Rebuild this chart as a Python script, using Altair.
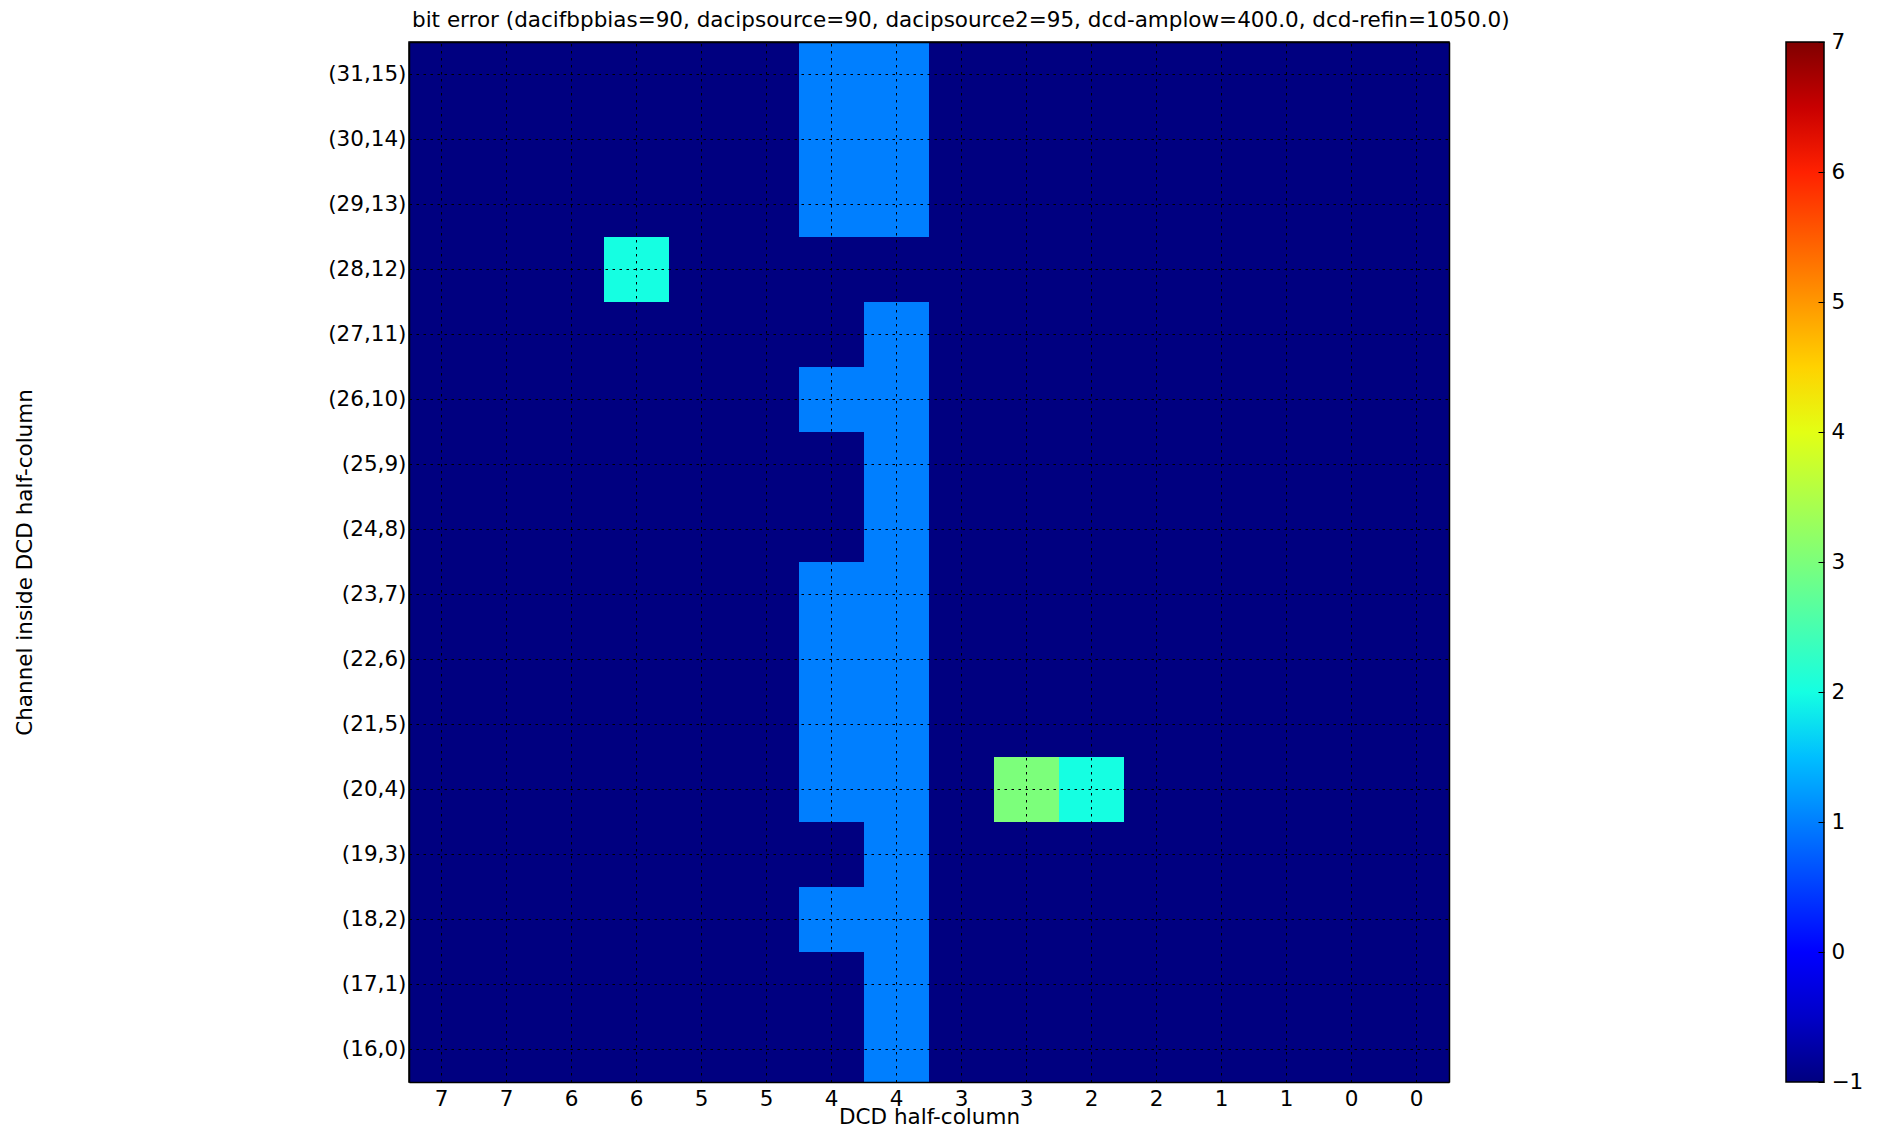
import altair as alt
import pandas as pd
import numpy as np

title_text = "bit error (dacifbpbias=90, dacipsource=90, dacipsource2=95, dcd-amplow=400.0, dcd-refin=1050.0)"
x_title = "DCD half-column"
y_title = "Channel inside DCD half-column"

col_labels = ["7", "7", "6", "6", "5", "5", "4", "4", "3", "3", "2", "2", "1", "1", "0", "0"]
row_labels = ["(31,15)", "(30,14)", "(29,13)", "(28,12)", "(27,11)", "(26,10)", "(25,9)", "(24,8)",
              "(23,7)", "(22,6)", "(21,5)", "(20,4)", "(19,3)", "(18,2)", "(17,1)", "(16,0)"]

# bit error per cell, rows top to bottom, columns left to right
values = [
    [-1, -1, -1, -1, -1, -1, 1, 1, -1, -1, -1, -1, -1, -1, -1, -1],
    [-1, -1, -1, -1, -1, -1, 1, 1, -1, -1, -1, -1, -1, -1, -1, -1],
    [-1, -1, -1, -1, -1, -1, 1, 1, -1, -1, -1, -1, -1, -1, -1, -1],
    [-1, -1, -1, 2, -1, -1, -1, -1, -1, -1, -1, -1, -1, -1, -1, -1],
    [-1, -1, -1, -1, -1, -1, -1, 1, -1, -1, -1, -1, -1, -1, -1, -1],
    [-1, -1, -1, -1, -1, -1, 1, 1, -1, -1, -1, -1, -1, -1, -1, -1],
    [-1, -1, -1, -1, -1, -1, -1, 1, -1, -1, -1, -1, -1, -1, -1, -1],
    [-1, -1, -1, -1, -1, -1, -1, 1, -1, -1, -1, -1, -1, -1, -1, -1],
    [-1, -1, -1, -1, -1, -1, 1, 1, -1, -1, -1, -1, -1, -1, -1, -1],
    [-1, -1, -1, -1, -1, -1, 1, 1, -1, -1, -1, -1, -1, -1, -1, -1],
    [-1, -1, -1, -1, -1, -1, 1, 1, -1, -1, -1, -1, -1, -1, -1, -1],
    [-1, -1, -1, -1, -1, -1, 1, 1, -1, 3, 2, -1, -1, -1, -1, -1],
    [-1, -1, -1, -1, -1, -1, -1, 1, -1, -1, -1, -1, -1, -1, -1, -1],
    [-1, -1, -1, -1, -1, -1, 1, 1, -1, -1, -1, -1, -1, -1, -1, -1],
    [-1, -1, -1, -1, -1, -1, -1, 1, -1, -1, -1, -1, -1, -1, -1, -1],
    [-1, -1, -1, -1, -1, -1, -1, 1, -1, -1, -1, -1, -1, -1, -1, -1],
]

colorbar_ticks = [-1, 0, 1, 2, 3, 4, 5, 6, 7]
vmin, vmax = -1, 7

# matplotlib "jet" colormap breakpoints (style, not data)
jet_t = [0.0, 0.11, 0.125, 0.34, 0.35, 0.375, 0.64, 0.65, 0.66, 0.89, 0.91, 1.0]


def jet_hex(t):
    r = np.interp(t, [0, 0.35, 0.66, 0.89, 1], [0, 0, 1, 1, 0.5])
    g = np.interp(t, [0, 0.125, 0.375, 0.64, 0.91, 1], [0, 0, 1, 1, 0, 0])
    b = np.interp(t, [0, 0.11, 0.34, 0.65, 1], [0.5, 1, 1, 0, 0])
    return "#%02x%02x%02x" % (int(round(r * 255)), int(round(g * 255)), int(round(b * 255)))


jet_domain = [vmin + (vmax - vmin) * t for t in jet_t]
jet_range = [jet_hex(t) for t in jet_t]

records = []
for ri, rl in enumerate(row_labels):
    for ci in range(len(col_labels)):
        records.append({"row": rl, "col": ci, "value": values[ri][ci]})
df = pd.DataFrame(records)
ticks_df = pd.DataFrame({"tick": colorbar_ticks})

FONT = "DejaVu Sans"
FS = 21.5

label_array = "[" + ",".join("'%s'" % c for c in col_labels) + "]"

W, H = 1040, 1040
CB_LEFT = 1377  # colorbar left edge relative to plot origin
CB_W = 38
TICK_LEN = 6

grid_style = dict(grid=True, gridColor="black", gridDash=[2.5, 4.5], gridWidth=1, gridOpacity=1)
frame_style = dict(domain=True, domainColor="black", domainWidth=1.5, zindex=1)

heat = alt.Chart(df).mark_rect().encode(
    x=alt.X(
        "col:O",
        scale=alt.Scale(paddingInner=0, paddingOuter=0),
        axis=alt.Axis(
            title=x_title,
            labelExpr=label_array + "[datum.value]",
            labelAngle=0,
            labelPadding=6,
            titleBaseline="alphabetic",
            titleY=41,
            titlePadding=0,
            ticks=False,
            bandPosition=0.5,
            **grid_style,
            **frame_style,
        ),
    ),
    y=alt.Y(
        "row:N",
        sort=row_labels,
        scale=alt.Scale(paddingInner=0, paddingOuter=0),
        axis=alt.Axis(
            title=y_title,
            labelPadding=3,
            titleAngle=270,
            titleBaseline="alphabetic",
            titleX=-378,
            titleY=H / 2,
            ticks=False,
            bandPosition=0.5,
            **grid_style,
            **frame_style,
        ),
    ),
    color=alt.Color(
        "value:Q",
        scale=alt.Scale(domain=jet_domain, range=jet_range, interpolate="rgb"),
        legend=alt.Legend(
            title=None,
            orient="none",
            direction="vertical",
            legendX=CB_LEFT,
            legendY=0,
            gradientLength=H,
            gradientThickness=CB_W,
            gradientStrokeColor="black",
            gradientStrokeWidth=1.5,
            values=colorbar_ticks,
            labelExpr="''",
            labelOpacity=0,
            padding=0,
        ),
    ),
)

colorbar_axis = alt.Chart(ticks_df).mark_point(opacity=0).encode(
    y=alt.Y(
        "tick:Q",
        scale=alt.Scale(domain=[vmin, vmax], nice=False, zero=False),
        axis=alt.Axis(
            orient="right",
            offset=CB_LEFT + CB_W - TICK_LEN - W,
            values=colorbar_ticks,
            format="d",
            labelExpr="datum.value < 0 ? '\u2212' + abs(datum.value) : datum.label",
            labelFont=FONT,
            labelFontSize=FS,
            labelColor="black",
            ticks=True,
            tickSize=TICK_LEN,
            tickColor="black",
            tickWidth=1,
            domain=False,
            grid=False,
            labelPadding=7,
            labelBaseline="middle",
            labelAlign="left",
            labelOverlap=False,
            labelFlush=False,
            title=None,
            zindex=1,
        ),
    ),
)

frame_axes = alt.Chart(ticks_df).mark_point(opacity=0).encode(
    x=alt.X(
        "tick:Q",
        scale=alt.Scale(domain=[vmin, vmax], nice=False, zero=False),
        axis=alt.Axis(orient="top", labels=False, ticks=False, grid=False, title=None, **frame_style),
    ),
    y=alt.Y(
        "tick:Q",
        scale=alt.Scale(domain=[vmin, vmax], nice=False, zero=False),
        axis=alt.Axis(orient="right", labels=False, ticks=False, grid=False, title=None, **frame_style),
    ),
)

chart = alt.layer(heat, colorbar_axis, frame_axes).resolve_scale(
    x="independent", y="independent"
).properties(
    width=W,
    height=H,
    title=alt.TitleParams(
        text=title_text,
        font=FONT,
        fontSize=FS,
        fontWeight="normal",
        color="black",
        anchor="start",
        baseline="alphabetic",
        offset=-17,
        dx=3,
        frame="group",
    ),
    autosize=alt.AutoSizeParams(type="none"),
    padding={"left": 409, "top": 42, "right": 429, "bottom": 46},
).configure(
    background="white",
).configure_axis(
    labelFont=FONT,
    labelFontSize=FS,
    labelColor="black",
    titleFont=FONT,
    titleFontSize=FS,
    titleFontWeight="normal",
    titleColor="black",
).configure_view(
    stroke="black",
    strokeWidth=1.5,
)

chart.save("out.html", embed_options={"renderer": "svg", "actions": False})
